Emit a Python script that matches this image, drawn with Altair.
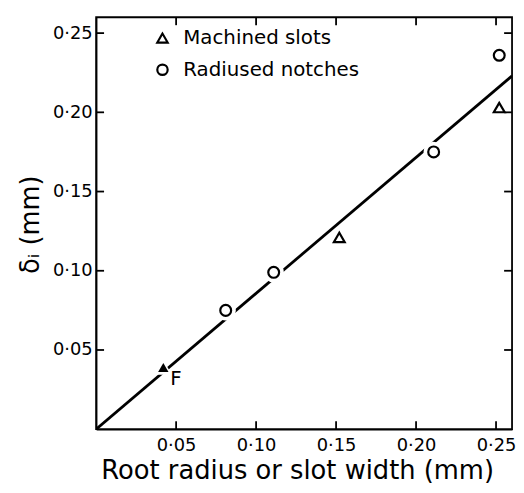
import altair as alt
import pandas as pd

# ---- data ----
series_names = ["Machined slots", "Radiused notches"]
machined_x = [0.152, 0.252]
machined_y = [0.121, 0.203]
radiused_x = [0.081, 0.111, 0.211, 0.252]
radiused_y = [0.075, 0.099, 0.175, 0.236]
f_x = [0.042]
f_y = [0.039]
f_label = ["F"]
fit_x = [0.0, 0.26]
fit_y = [0.0, 0.223]
tick_values = [0.05, 0.10, 0.15, 0.20, 0.25]

FONT = "DejaVu Sans"
W, H = 420, 416

mach = pd.DataFrame({"x": machined_x, "y": machined_y, "series": series_names[0]})
rad = pd.DataFrame({"x": radiused_x, "y": radiused_y, "series": series_names[1]})
pts = pd.concat([mach, rad], ignore_index=True)
fpt = pd.DataFrame({"x": f_x, "y": f_y, "label": f_label})
fit = pd.DataFrame({"x": fit_x, "y": fit_y})
ticks_x = pd.DataFrame({"x": tick_values})
ticks_y = pd.DataFrame({"y": tick_values})

xs = alt.Scale(domain=[0, 0.26], nice=False, zero=False)
ys = alt.Scale(domain=[0, 0.26], nice=False, zero=False)
lab = "replace(format(datum.value, '.2f'), '.', '·')"

x_axis = alt.Axis(values=tick_values, labelExpr=lab, ticks=False, domain=True,
                  domainColor="black", domainWidth=1.6, grid=False,
                  labelFont=FONT, labelFontSize=18, labelColor="black", labelPadding=8,
                  title="Root radius or slot width (mm)", titleFont=FONT, titleFontSize=26,
                  titleFontWeight="normal", titleColor="black", titleX=203, titleY=50,
                  titleAlign="center", titleBaseline="alphabetic")
y_axis = alt.Axis(values=tick_values, labelExpr=lab, ticks=False, domain=True,
                  domainColor="black", domainWidth=1.6, grid=False,
                  labelFont=FONT, labelFontSize=18, labelColor="black", labelPadding=4,
                  title="δᵢ (mm)", titleFont=FONT, titleFontSize=26, titleFontWeight="normal",
                  titleColor="black", titleAngle=-90, titleX=-66, titleY=209,
                  titleAlign="center", titleBaseline="middle")


def X():
    return alt.X("x:Q", scale=xs, axis=x_axis)


def Y():
    return alt.Y("y:Q", scale=ys, axis=y_axis)


shape_scale = alt.Scale(domain=series_names, range=["triangle-up", "circle"])

line = alt.Chart(fit).mark_line(color="black", strokeWidth=2.8, clip=True).encode(x=X(), y=Y())

halo_t = alt.Chart(mach).mark_point(shape="triangle-up", filled=True, color="white", size=420,
                                    opacity=1).encode(x=X(), y=Y())
halo_c = alt.Chart(rad).mark_point(shape="circle", filled=True, color="white", size=420,
                                   opacity=1).encode(x=X(), y=Y())
fhalo = alt.Chart(fpt).mark_point(shape="triangle-up", filled=True, color="white",
                                  size=300, opacity=1).encode(x=X(), y=Y())

marks = alt.Chart(pts).mark_point(filled=False, color="black", strokeWidth=2.2, size=120,
                                  opacity=1).encode(
    x=X(), y=Y(),
    shape=alt.Shape("series:N", scale=shape_scale,
                    legend=alt.Legend(title=None, orient="none", legendX=57, legendY=11,
                                      labelFont=FONT, labelFontSize=20, labelColor="black",
                                      labelLimit=0, symbolSize=110, symbolStrokeWidth=2.2,
                                      symbolStrokeColor="black", symbolFillColor="white",
                                      rowPadding=12, labelOffset=11, padding=0)))

fmark = alt.Chart(fpt).mark_point(shape="triangle-up", filled=True, color="black",
                                  size=110, opacity=1).encode(x=X(), y=Y())
ftext = alt.Chart(fpt).mark_text(font=FONT, fontSize=20, align="left", baseline="middle",
                                 dx=7, dy=12, color="black").encode(x=X(), y=Y(), text="label:N")

TK = 8
t_bottom = alt.Chart(ticks_x).mark_rule(color="black", strokeWidth=1.8).encode(
    x=alt.X("x:Q", scale=xs), y=alt.value(H), y2=alt.value(H - TK))
t_top = alt.Chart(ticks_x).mark_rule(color="black", strokeWidth=1.8).encode(
    x=alt.X("x:Q", scale=xs), y=alt.value(0), y2=alt.value(TK))
t_left = alt.Chart(ticks_y).mark_rule(color="black", strokeWidth=1.8).encode(
    y=alt.Y("y:Q", scale=ys), x=alt.value(0), x2=alt.value(TK))
t_right = alt.Chart(ticks_y).mark_rule(color="black", strokeWidth=1.8).encode(
    y=alt.Y("y:Q", scale=ys), x=alt.value(W), x2=alt.value(W - TK))

chart = alt.layer(
    line, halo_t, halo_c, fhalo, marks, fmark, ftext, t_bottom, t_top, t_left, t_right
).properties(
    width=W, height=H,
    padding={"left": 10, "top": 6, "right": 0, "bottom": 0},
).configure_view(stroke="black", strokeWidth=1.8)

chart.save("out.html", embed_options={"renderer": "svg", "actions": False})
